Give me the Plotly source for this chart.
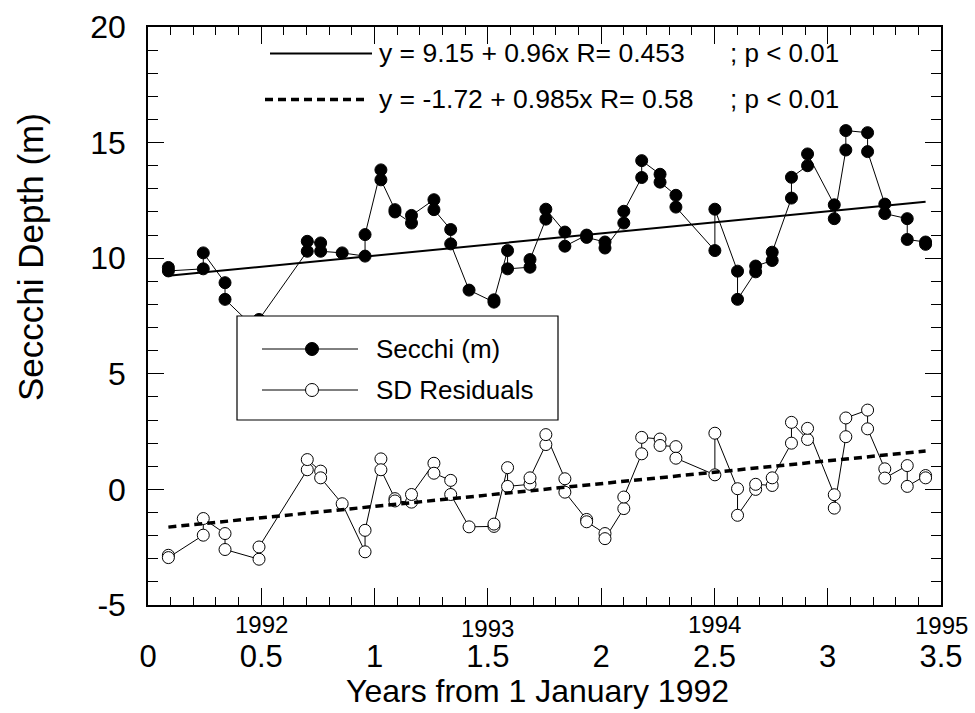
import plotly.graph_objects as go
import numpy as np

# ---------------- data ----------------
years = [0.09, 0.09, 0.244, 0.244, 0.34, 0.34, 0.49, 0.49, 0.703, 0.703,
         0.762, 0.762, 0.857, 0.958, 0.958, 1.028, 1.028, 1.09, 1.09,
         1.163, 1.163, 1.262, 1.262, 1.336, 1.336, 1.417, 1.527, 1.527,
         1.587, 1.587, 1.686, 1.686, 1.756, 1.756, 1.84, 1.84, 1.936, 1.936,
         2.017, 2.017, 2.10, 2.10, 2.179, 2.179, 2.26, 2.26, 2.33, 2.33,
         2.502, 2.502, 2.602, 2.602, 2.682, 2.682, 2.755, 2.755, 2.84, 2.84,
         2.911, 2.911, 3.029, 3.029, 3.08, 3.08, 3.176, 3.176, 3.252, 3.252,
         3.351, 3.351, 3.432, 3.432]

secchi = [9.6, 9.45, 9.54, 10.23, 8.94, 8.22, 6.8, 7.35, 10.30, 10.73,
          10.66, 10.30, 10.23, 10.09, 11.02, 13.82, 13.39, 12.1, 12.0,
          11.52, 11.85, 12.53, 12.10, 11.24, 10.62, 8.62, 8.1, 8.2,
          10.33, 9.54, 9.61, 9.94, 11.69, 12.12, 11.13, 10.52, 11.0, 10.9,
          10.70, 10.44, 11.52, 12.03, 13.49, 14.22, 13.63, 13.29, 12.72, 12.21,
          10.33, 12.12, 9.44, 8.22, 9.41, 9.66, 9.90, 10.26, 12.60, 13.50,
          14.0, 14.51, 12.31, 11.71, 14.68, 15.52, 15.43, 14.61, 12.34, 11.93,
          11.71, 10.81, 10.7, 10.6]

residuals = [-2.85, -2.95, -1.98, -1.26, -1.91, -2.60, -3.02, -2.49, 0.85, 1.29,
             0.79, 0.50, -0.62, -2.70, -1.77, 1.32, 0.85, -0.4, -0.5,
             -0.55, -0.22, 1.13, 0.70, 0.39, -0.22, -1.62, -1.6, -1.5,
             0.94, 0.13, 0.22, 0.50, 1.94, 2.37, 0.46, -0.12, -1.3, -1.4,
             -1.91, -2.13, -0.83, -0.33, 1.54, 2.25, 2.18, 1.90, 1.85, 1.35,
             0.63, 2.43, 0.03, -1.12, 0.0, 0.22, 0.17, 0.50, 2.0, 2.90,
             2.16, 2.64, -0.23, -0.81, 2.28, 3.09, 3.43, 2.62, 0.89, 0.49,
             1.03, 0.13, 0.60, 0.50]

assert len(years) == len(secchi) == len(residuals)

# regression lines (from the equations printed on the chart)
fit_secchi = (9.15, 0.96)
fit_resid = (-1.72, 0.985)
eq_texts = ["y = 9.15 + 0.96x R= 0.453", "y = -1.72 + 0.985x R= 0.58"]
p_texts = ["; p < 0.01", "; p < 0.01"]
legend_names = ["Secchi (m)", "SD Residuals"]

y_tickvals = [-5, 0, 5, 10, 15, 20]
y_ticktext = ["-5", "0", "5", "10", "15", "20"]

year_labels = ["1992", "1993", "1994", "1995"]
year_label_x = [0.5, 1.5, 2.5, 3.5]
year_label_y = [624, 628, 624, 625]   # pixel centres

# ---------------- layout geometry ----------------
W, H = 975, 713
L, R, T, B = 148, 34, 27, 108
PW, PH = W - L - R, H - T - B
FONT = "Arial, Liberation Sans, sans-serif"


def px(xp):
    return (xp - L) / PW


def py(yp):
    return (H - B - yp) / PH


fig = go.Figure()

fx = np.array([min(years), max(years)])

fig.add_trace(go.Scatter(x=years, y=secchi, mode="lines+markers",
                         line=dict(color="black", width=1),
                         marker=dict(symbol="circle", size=12, color="black",
                                     line=dict(color="black", width=1)),
                         showlegend=False))
fig.add_trace(go.Scatter(x=years, y=residuals, mode="lines+markers",
                         line=dict(color="black", width=1),
                         marker=dict(symbol="circle", size=12, color="white",
                                     line=dict(color="black", width=1)),
                         showlegend=False))
fig.add_trace(go.Scatter(x=fx, y=fit_secchi[0] + fit_secchi[1] * fx, mode="lines",
                         line=dict(color="black", width=2), showlegend=False))
fig.add_trace(go.Scatter(x=fx, y=fit_resid[0] + fit_resid[1] * fx, mode="lines",
                         line=dict(color="black", width=3.5, dash="8px,5px"),
                         showlegend=False))

shapes = []
annotations = []

# equation key lines + texts
key_y = [53.5, 99.5]
key_x = [(270, 372), (265, 367)]
key_dash = ["solid", "8px,5px"]
key_w = [2, 3.5]
for i in range(2):
    shapes.append(dict(type="line", xref="paper", yref="paper",
                       x0=px(key_x[i][0]), x1=px(key_x[i][1]),
                       y0=py(key_y[i]), y1=py(key_y[i]),
                       line=dict(color="black", width=key_w[i], dash=key_dash[i])))
    annotations.append(dict(text=eq_texts[i], xref="paper", yref="paper",
                            x=px(377), y=py(key_y[i]), xanchor="left", yanchor="middle",
                            showarrow=False, font=dict(family=FONT, size=26.5, color="black")))
    annotations.append(dict(text=p_texts[i], xref="paper", yref="paper",
                            x=px(728), y=py(key_y[i]), xanchor="left", yanchor="middle",
                            showarrow=False, font=dict(family=FONT, size=26, color="black")))

# custom legend box
shapes.append(dict(type="rect", xref="paper", yref="paper", layer="above",
                   x0=px(237), x1=px(558), y0=py(420), y1=py(316),
                   fillcolor="white", line=dict(color="black", width=1.2)))
leg_y = [349, 390]
leg_fill = ["black", "white"]
for i in range(2):
    shapes.append(dict(type="line", xref="paper", yref="paper", layer="above",
                       x0=px(262), x1=px(358), y0=py(leg_y[i]), y1=py(leg_y[i]),
                       line=dict(color="black", width=1)))
    shapes.append(dict(type="circle", xref="paper", yref="paper", layer="above",
                       xsizemode="pixel", ysizemode="pixel",
                       xanchor=px(312), yanchor=py(leg_y[i]),
                       x0=-6.5, x1=6.5, y0=-6.5, y1=6.5,
                       fillcolor=leg_fill[i], line=dict(color="black", width=1)))
    annotations.append(dict(text=legend_names[i], xref="paper", yref="paper",
                            x=px(374), y=py(leg_y[i]), xanchor="left", yanchor="middle",
                            showarrow=False, font=dict(family=FONT, size=26, color="black")))

# year labels under the x axis
for lab, xv, yv in zip(year_labels, year_label_x, year_label_y):
    annotations.append(dict(text=lab, xref="x", yref="paper", x=xv, y=py(yv),
                            xanchor="center", yanchor="middle", showarrow=False,
                            font=dict(family=FONT, size=24, color="black")))

# axis titles (placed as in the reference)
annotations.append(dict(text="Seccchi Depth (m)", xref="paper", yref="paper",
                        x=px(30), y=py(257), xanchor="center", yanchor="middle",
                        textangle=-90, showarrow=False,
                        font=dict(family=FONT, size=35, color="black")))
annotations.append(dict(text="Years from 1 January 1992", xref="paper", yref="paper",
                        x=px(537), y=py(691), xanchor="center", yanchor="middle",
                        showarrow=False,
                        font=dict(family=FONT, size=32, color="black")))

fig.update_layout(
    width=W, height=H,
    margin=dict(l=L, r=R, t=T, b=B, autoexpand=False),
    paper_bgcolor="white", plot_bgcolor="white",
    font=dict(family=FONT, color="black"),
    shapes=shapes, annotations=annotations,
    showlegend=False,
)

fig.update_xaxes(range=[0, 3.5], dtick=0.5, tick0=0, showgrid=False, zeroline=False,
                 showline=True, linecolor="black", linewidth=1.5, mirror="ticks",
                 ticks="inside", ticklen=17, tickwidth=1.2, tickcolor="black",
                 minor=dict(ticks="inside", ticklen=8, dtick=0.1, tick0=0,
                            tickwidth=1.2, tickcolor="black", showgrid=False),
                 tickfont=dict(family=FONT, size=31), ticklabelstandoff=23,
                 automargin=False)
fig.update_yaxes(range=[-5, 20], tickvals=y_tickvals, ticktext=y_ticktext,
                 showgrid=False, zeroline=False,
                 showline=True, linecolor="black", linewidth=1.5, mirror="ticks",
                 ticks="inside", ticklen=16, tickwidth=1.2, tickcolor="black",
                 minor=dict(ticks="inside", ticklen=10, dtick=1, tick0=0,
                            tickwidth=1.2, tickcolor="black", showgrid=False),
                 tickfont=dict(family=FONT, size=32), ticklabelstandoff=14,
                 automargin=False)

fig.write_html("out.html")
